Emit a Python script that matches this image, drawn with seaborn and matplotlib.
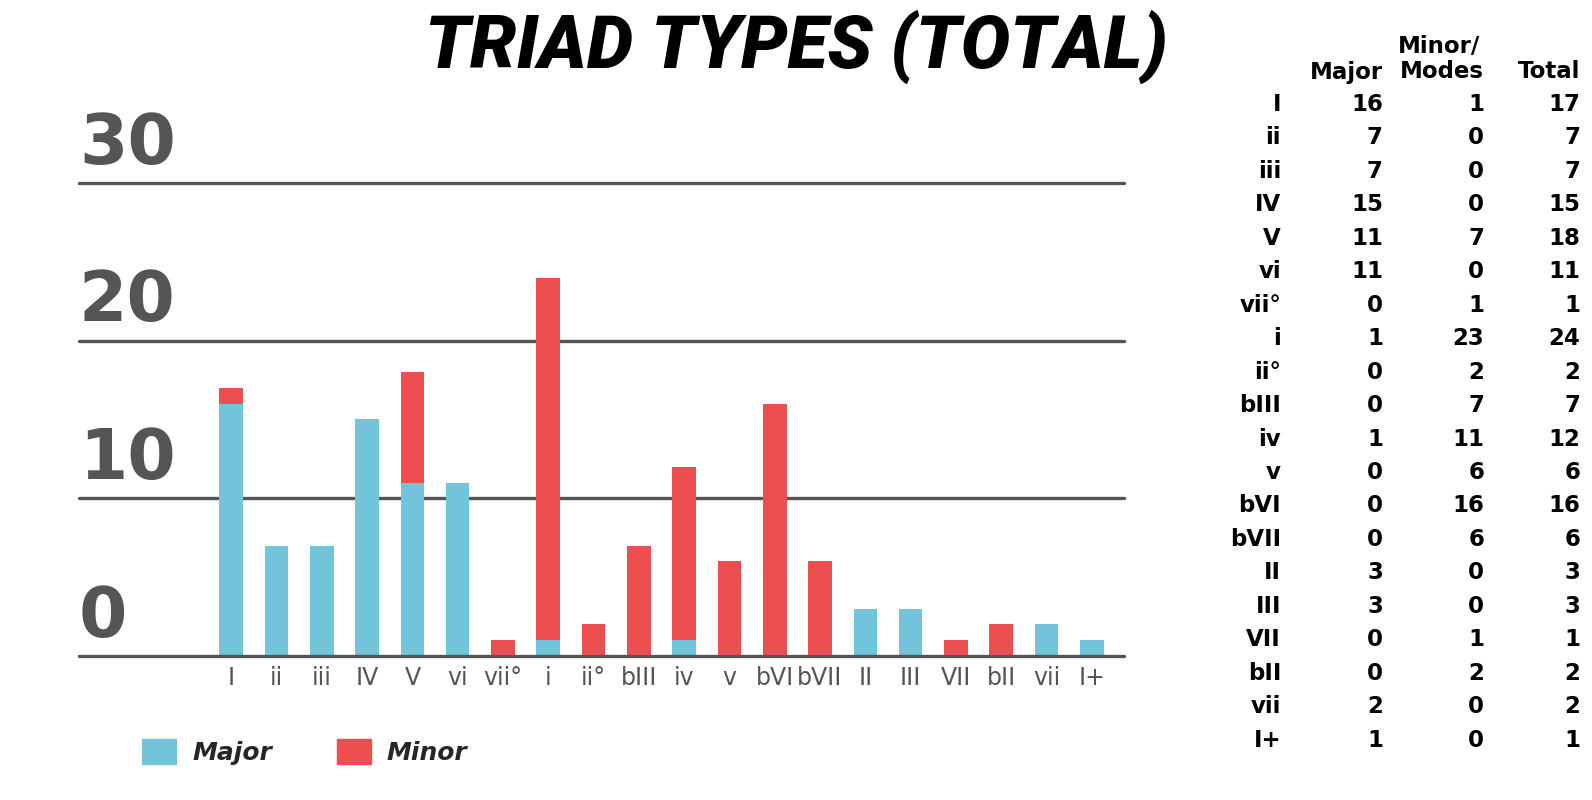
import seaborn as sns
import matplotlib.pyplot as plt
import pandas as pd
from matplotlib.patches import Patch

triads = ['I', 'ii', 'iii', 'IV', 'V', 'vi', 'vii°', 'i', 'ii°', 'bIII',
          'iv', 'v', 'bVI', 'bVII', 'II', 'III', 'VII', 'bII', 'vii', 'I+']
major = [16, 7, 7, 15, 11, 11, 0, 1, 0, 0, 1, 0, 0, 0, 3, 3, 0, 0, 2, 1]
minor = [1, 0, 0, 0, 7, 0, 1, 23, 2, 7, 11, 6, 16, 6, 0, 0, 1, 2, 0, 0]
total = [17, 7, 7, 15, 18, 11, 1, 24, 2, 7, 12, 6, 16, 6, 3, 3, 1, 2, 2, 1]
y_ticks = [0, 10, 20, 30]

BLUE = '#71C4DA'
RED = '#ED4F51'
GREY = '#555555'

df = pd.DataFrame({'triad': triads, 'major': major, 'minor': minor, 'total': total})

sns.set_theme(style='white')
# Roboto only used for the title, everything else asks for DejaVu Sans by name
plt.rcParams['font.family'] = ['Roboto', 'DejaVu Sans']
DV = 'DejaVu Sans'

fig = plt.figure(figsize=(15.92, 8), dpi=100)
fig.patch.set_facecolor('white')
ax = fig.add_axes([79 / 1592, 0.18, (1124 - 79) / 1592, 0.611])

# red = total, blue major drawn over it -> stacked bars
sns.barplot(data=df, x='triad', y='total', color=RED, width=0.52, saturation=1,
            errorbar=None, linewidth=0, ax=ax, zorder=2)
sns.barplot(data=df, x='triad', y='major', color=BLUE, width=0.52, saturation=1,
            errorbar=None, linewidth=0, ax=ax, zorder=3)

for v in y_ticks:
    ax.axhline(v, color=GREY, lw=2.4, zorder=4 if v == 0 else 0, clip_on=False)
    ax.annotate(str(v), xy=(0, v), xycoords=('axes fraction', 'data'),
                xytext=(0, 14), textcoords='offset points', ha='left', va='baseline',
                fontsize=50, fontweight='bold', color=GREY, family=DV)

ax.set_xlim(-3.36, 19.71)
ax.set_ylim(0, 31)
ax.set_yticks([])
ax.set_xlabel('')
ax.set_ylabel('')
ax.tick_params(axis='x', length=0, pad=7, labelsize=17, labelcolor=GREY)
for lab in ax.get_xticklabels():
    lab.set_family(DV)
sns.despine(ax=ax, left=True, bottom=True)

# title
fig.text(0.5, 1 - 68 / 800, 'TRIAD TYPES (TOTAL)', ha='center', va='baseline',
         fontsize=53, fontweight='black', style='italic', color='black')

# legend
handles = [Patch(color=BLUE, label='Major'), Patch(color=RED, label='Minor')]
fig.legend(handles=handles, loc='center left', bbox_to_anchor=(142 / 1592, 1 - 752 / 800),
           ncol=2, frameon=False,
           prop=dict(family=DV, size=18, weight='bold', style='italic'),
           handlelength=1.36, handleheight=1.16, handletextpad=0.64,
           columnspacing=2.6, borderpad=0, borderaxespad=0)

# table on the right
col_x = [1281 / 1592, 1383 / 1592, 1484 / 1592, 1580 / 1592]
tkw = dict(ha='right', va='baseline', fontsize=16.5, fontweight='bold',
           color='black', family=DV)
fig.text(col_x[1], 1 - 78.5 / 800, 'Major', **tkw)
fig.text(col_x[2] - 4 / 1592, 1 - 53 / 800, 'Minor/', **tkw)
fig.text(col_x[2], 1 - 78.5 / 800, 'Modes', **tkw)
fig.text(col_x[3], 1 - 78.5 / 800, 'Total', **tkw)
for i, name in enumerate(triads):
    y = 1 - (111 + i * 33.45) / 800
    fig.text(col_x[0], y, name, **tkw)
    fig.text(col_x[1], y, str(major[i]), **tkw)
    fig.text(col_x[2], y, str(minor[i]), **tkw)
    fig.text(col_x[3], y, str(total[i]), **tkw)

fig.savefig('out.png', dpi=100)
